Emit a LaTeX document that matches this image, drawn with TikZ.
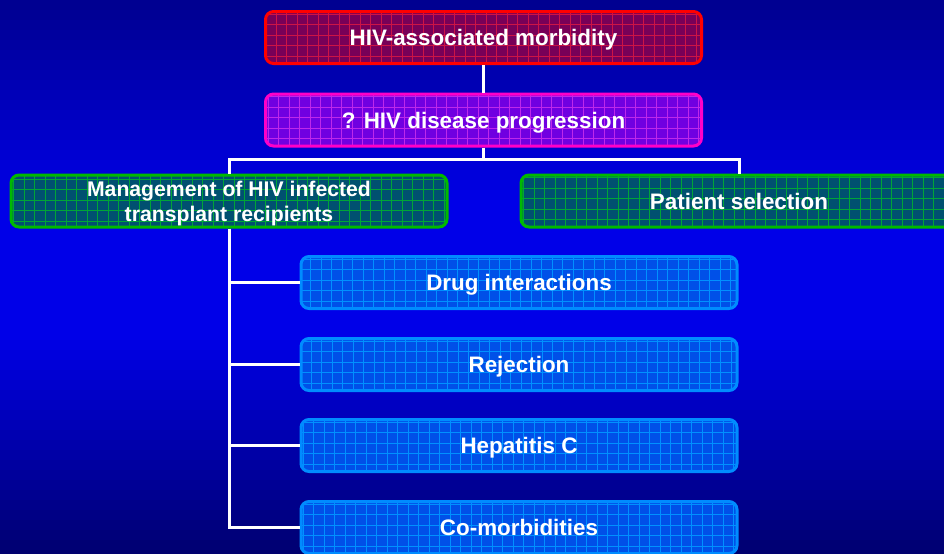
\documentclass[tikz,border=0pt]{standalone}
\usepackage{fontspec}
\setmainfont{Liberation Sans}
\usetikzlibrary{positioning}
\definecolor{bgdark}{RGB}{0,0,145}
\definecolor{bglight}{RGB}{0,0,232}
\definecolor{bgbottom}{RGB}{0,0,110}
\definecolor{redfill}{RGB}{120,0,88}
\definecolor{redgrid}{RGB}{205,20,70}
\definecolor{redline}{RGB}{255,0,0}
\definecolor{purfill}{RGB}{112,0,225}
\definecolor{purgrid}{RGB}{190,40,235}
\definecolor{purline}{RGB}{255,0,200}
\definecolor{grnfill}{RGB}{0,80,112}
\definecolor{grngrid}{RGB}{0,165,55}
\definecolor{grnline}{RGB}{0,185,0}
\definecolor{blufill}{RGB}{0,80,232}
\definecolor{blugrid}{RGB}{0,145,255}
\definecolor{bluline}{RGB}{0,140,255}
\tikzset{
  box/.style={draw,rounded corners=4pt,line width=1.5pt,minimum width=218pt,minimum height=26pt,
    inner sep=0pt,text depth=0pt,align=center,text=white,font=\bfseries\fontsize{11.2}{13}\selectfont},
  grid/.style={path picture={\draw[#1,line width=0.5pt,step=5.25pt]
    (path picture bounding box.south west) grid (path picture bounding box.north east);}},
  cause/.style={box,draw=redline,fill=redfill,grid=redgrid},
  stage/.style={box,draw=purline,fill=purfill,grid=purgrid},
  branch/.style={box,draw=grnline,fill=grnfill,grid=grngrid},
  issue/.style={box,draw=bluline,fill=blufill,grid=blugrid},
  link/.style={draw=white,line width=1.5pt}
}
\begin{document}
\begin{tikzpicture}[x=0.5pt,y=-0.5pt]
  \useasboundingbox (0,0) rectangle (944,553);
  \clip (0,0) rectangle (944,553);
  \foreach \i in {0,...,55}{
    \ifnum\i<20
      \pgfmathtruncatemacro\p{\i*100/20}
      \colorlet{strip}{bglight!\p!bgdark}
    \else\ifnum\i<33
      \colorlet{strip}{bglight}
    \else
      \pgfmathtruncatemacro\p{(\i-33)*100/22}
      \colorlet{strip}{bgbottom!\p!bglight}
    \fi\fi
    \fill[strip] (0,\i*10) rectangle (944,\i*10+11);
  }
  \node[cause] (morb) at (483.5,37.5) {HIV-associated morbidity};
  \node[stage] (prog) at (483.5,120) {? HIV disease progression};
  \node[branch,font=\bfseries\fontsize{10.6}{12.5}\selectfont] (mgmt) at (229,201) {Management of HIV infected\\transplant recipients};
  \node[branch] (select) at (739,201) {Patient selection};
  \node[issue] (drug) at (519,282.5) {Drug interactions};
  \node[issue] (rej) at (519,364.5) {Rejection};
  \node[issue] (hcv) at (519,445.5) {Hepatitis C};
  \node[issue] (como) at (519,527.5) {Co-morbidities};
  \coordinate (bus) at (483.5,159);
  \path[link] (morb) -- (prog);
  \path[link] (prog) -- (bus);
  \path[link] (bus) -| (mgmt.north);
  \path[link] (bus) -| (select.north);
  \path[link] (mgmt.south) |- (como.west);
  \path[link] (mgmt.south |- drug.west) -- (drug.west);
  \path[link] (mgmt.south |- rej.west) -- (rej.west);
  \path[link] (mgmt.south |- hcv.west) -- (hcv.west);
\end{tikzpicture}
\end{document}
